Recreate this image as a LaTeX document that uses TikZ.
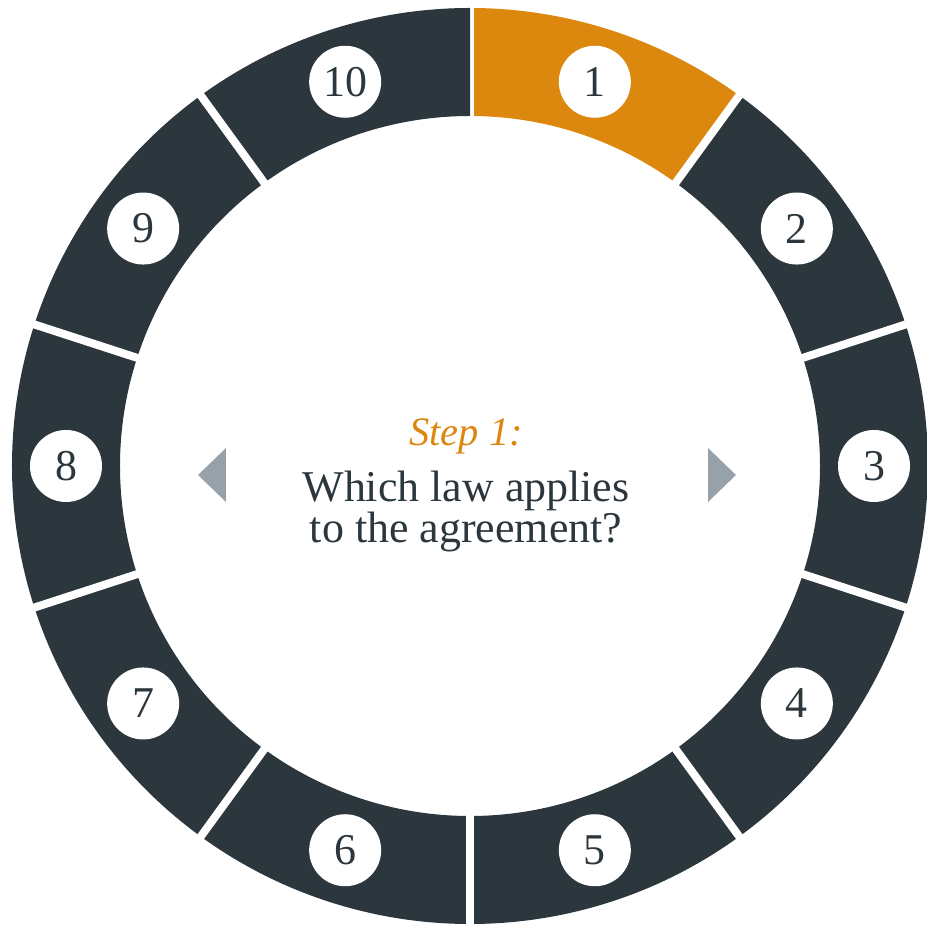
\documentclass[tikz,border=0pt]{standalone}
\usepackage{fontspec}
\setmainfont{Liberation Serif}
\usepackage{tikz}
\usepackage{xcolor}
\usetikzlibrary{calc, positioning}

\definecolor{ringdark}{HTML}{2B363D}
\definecolor{stepora}{HTML}{DC870E}
\definecolor{navgrey}{HTML}{97A1A9}

\tikzset{
    numdot/.style={circle, fill=white, minimum size=0.72cm, inner sep=0pt, text=ringdark, font=\fontsize{12.5}{14}\selectfont},
    qline/.style={anchor=base, inner sep=0pt, text=ringdark, font=\fontsize{12.5}{11.7}\selectfont}
}

\begin{document}
\begin{tikzpicture}
                        \useasboundingbox (-4.70, -4.61) rectangle (4.56, 4.66);
                        % ring of ten steps, step 1 on top
                        \foreach \i [evaluate=\i as \a using 126-36*\i, evaluate=\i as \b using 90-36*\i, evaluate=\i as \m using 108-36*\i] in {1,...,10} {
                            \ifnum\i=1 \def\segcol{stepora}\else\def\segcol{ringdark}\fi
                            \fill[\segcol] (\a:4.58) arc[start angle=\a, end angle=\b, radius=4.58]
                                -- (\b:3.50) arc[start angle=\b, end angle=\a, radius=3.50] -- cycle;
                            \draw[white, line width=0.08cm] (\a:3.40) -- (\a:4.70);
                            \node[numdot] (n\i) at (\m:4.04) {\i};
                        }
                        \node[anchor=base, inner sep=0pt, text=stepora, font=\fontsize{11.5}{14}\selectfont\itshape] (step) at (-0.04, 0.20) {Step 1:};
                        \node[qline] (q1) at (-0.04, -0.36) {Which law applies};
                        \node[qline] (q2) at (-0.04, -0.77) {to the agreement?};
                        \fill[navgrey] (-2.44, 0.18) -- (-2.44, -0.36) -- (-2.72, -0.09) -- cycle;
                        \fill[navgrey] (2.38, 0.18) -- (2.38, -0.36) -- (2.66, -0.09) -- cycle;
                    \end{tikzpicture}
\end{document}
